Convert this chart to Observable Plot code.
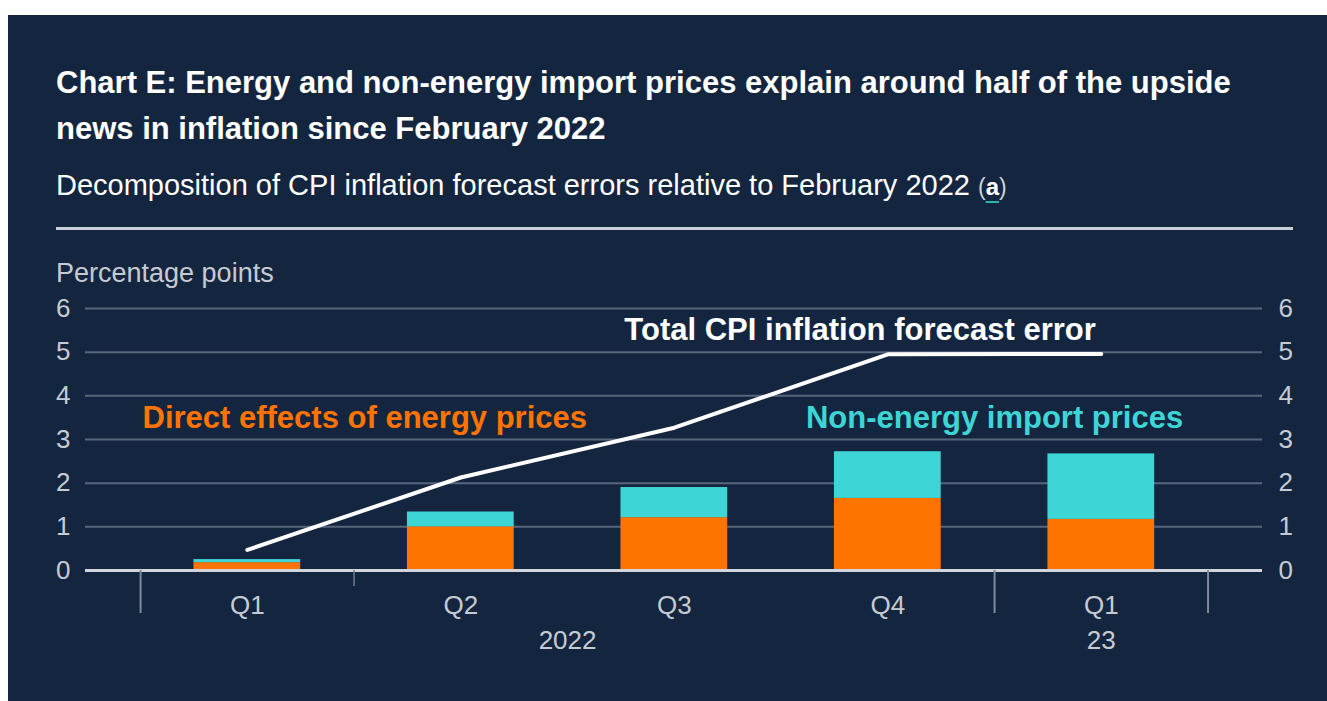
<!DOCTYPE html>
<html>
<head>
<meta charset="utf-8">
<script src="https://cdn.jsdelivr.net/npm/d3@7"></script>
<script src="https://cdn.jsdelivr.net/npm/@observablehq/plot@0.6"></script>
<style>
  html, body { margin: 0; padding: 0; background: #ffffff; }
  body { width: 1327px; height: 701px; position: relative; overflow: hidden; font-family: "Liberation Sans", Arial, sans-serif; }
  #panel { position: absolute; left: 8px; top: 15px; width: 1319px; height: 686px; background: #14263f; }
  #title { position: absolute; left: 48px; top: 45px; width: 1225px; color: #ffffff; font-weight: bold; font-size: 31px; line-height: 46px; margin: 0; }
  #subtitle { position: absolute; left: 48px; top: 153px; color: #ffffff; font-size: 29px; line-height: 34px; white-space: nowrap; }
  #subtitle .p { font-size: 23px; color: #d0d4da; }
  #subtitle .a { font-weight: bold; font-size: 24px; text-decoration: underline; text-decoration-color: #2bb3b3; text-decoration-thickness: 2px; text-underline-offset: 6px; }
  #rule { position: absolute; left: 48px; top: 212px; width: 1237px; height: 3px; background: #c9ced6; }
  #unit { position: absolute; left: 48px; top: 243px; color: #c6cbd3; font-size: 27px; line-height: 30px; }
  #chart { position: absolute; left: -8px; top: 225px; }
</style>
</head>
<body>
<div id="panel">
  <div id="title">Chart E: Energy and non-energy import prices explain around half of the upside news in inflation since February 2022</div>
  <div id="subtitle">Decomposition of CPI inflation forecast errors relative to February 2022 <span class="p">(</span><span class="a">a</span><span class="p">)</span></div>
  <div id="rule"></div>
  <div id="unit">Percentage points</div>
  <div id="chart"></div>
</div>
<script>
// ---- data ----
const quarters = ["Q1", "Q2", "Q3", "Q4", "Q1"];
const energy = [0.18, 1.0, 1.21, 1.65, 1.17];
const nonEnergy = [0.07, 0.34, 0.69, 1.07, 1.50];
const totalError = [0.47, 2.13, 3.27, 4.95, 4.96];
const yearLabels = ["2022", "23"];
const yearPositions = [1.5, 4];
const yTicks = [0, 1, 2, 3, 4, 5, 6];
const yearBoundaries = [-0.5, 3.5, 4.5];
const quarterBoundaries = [0.5];
const seriesLabels = ["Direct effects of energy prices", "Non-energy import prices", "Total CPI inflation forecast error"];

// ---- table ----
const rows = quarters.map((q, i) => ({
  i, q,
  energy: energy[i],
  stackTop: energy[i] + nonEnergy[i],
  total: totalError[i]
}));

const ORANGE = "#ff7300";
const TEAL = "#3dd5d6";
const AXIS_TEXT = "#c6cbd3";
const GRID = "#56667d";

const chart = Plot.plot({
  width: 1327,
  height: 440,
  marginTop: 68,
  marginBottom: 110,
  marginLeft: 85,
  marginRight: 65,
  style: { background: "transparent", fontFamily: "Liberation Sans, Arial, sans-serif", color: AXIS_TEXT, overflow: "visible" },
  x: { domain: [-0.758, 4.755] },
  y: { domain: [0, 6] },
  marks: [
    Plot.ruleY(yTicks.filter(d => d > 0), { stroke: GRID, strokeWidth: 2 }),
    Plot.rectY(rows, { x1: d => d.i - 0.25, x2: d => d.i + 0.25, y1: 0, y2: "energy", fill: ORANGE }),
    Plot.rectY(rows, { x1: d => d.i - 0.25, x2: d => d.i + 0.25, y1: "energy", y2: "stackTop", fill: TEAL }),
    Plot.ruleY([0], { stroke: "#d2d6dc", strokeWidth: 3 }),
    Plot.line(rows, { x: "i", y: "total", stroke: "#ffffff", strokeWidth: 4, strokeLinejoin: "round" }),
    Plot.axisY({ anchor: "left", ticks: yTicks, tickFormat: d3.format("d"), tickSize: 0, tickPadding: 15, fontSize: 26, label: null, fill: AXIS_TEXT }),
    Plot.axisY({ anchor: "right", ticks: yTicks, tickFormat: d3.format("d"), tickSize: 0, tickPadding: 16, fontSize: 26, label: null, fill: AXIS_TEXT }),
    Plot.axisX({ ticks: d3.range(quarters.length), tickFormat: i => quarters[i], tickSize: 0, tickPadding: 25, fontSize: 26, label: null, fill: AXIS_TEXT }),
    Plot.axisX({ ticks: yearPositions, tickFormat: (d, k) => yearLabels[k], tickSize: 0, tickPadding: 60, fontSize: 26, label: null, fill: AXIS_TEXT }),
    Plot.axisX({ ticks: yearBoundaries, tickFormat: () => "", tickSize: 43, stroke: "#7f8a9b", strokeWidth: 2, label: null }),
    Plot.axisX({ ticks: quarterBoundaries, tickFormat: () => "", tickSize: 16, stroke: "#6f7b8d", strokeWidth: 1.5, label: null }),
    Plot.text([seriesLabels[0]], { x: 0.55, y: 3.5, text: d => d, fill: ORANGE, fontSize: 31, fontWeight: "bold" }),
    Plot.text([seriesLabels[1]], { x: 3.5, y: 3.5, text: d => d, fill: TEAL, fontSize: 31, fontWeight: "bold" }),
    Plot.text([seriesLabels[2]], { x: 2.87, y: 5.5, text: d => d, fill: "#ffffff", fontSize: 31, fontWeight: "bold" })
  ]
});
document.getElementById("chart").appendChild(chart);
</script>
</body>
</html>
